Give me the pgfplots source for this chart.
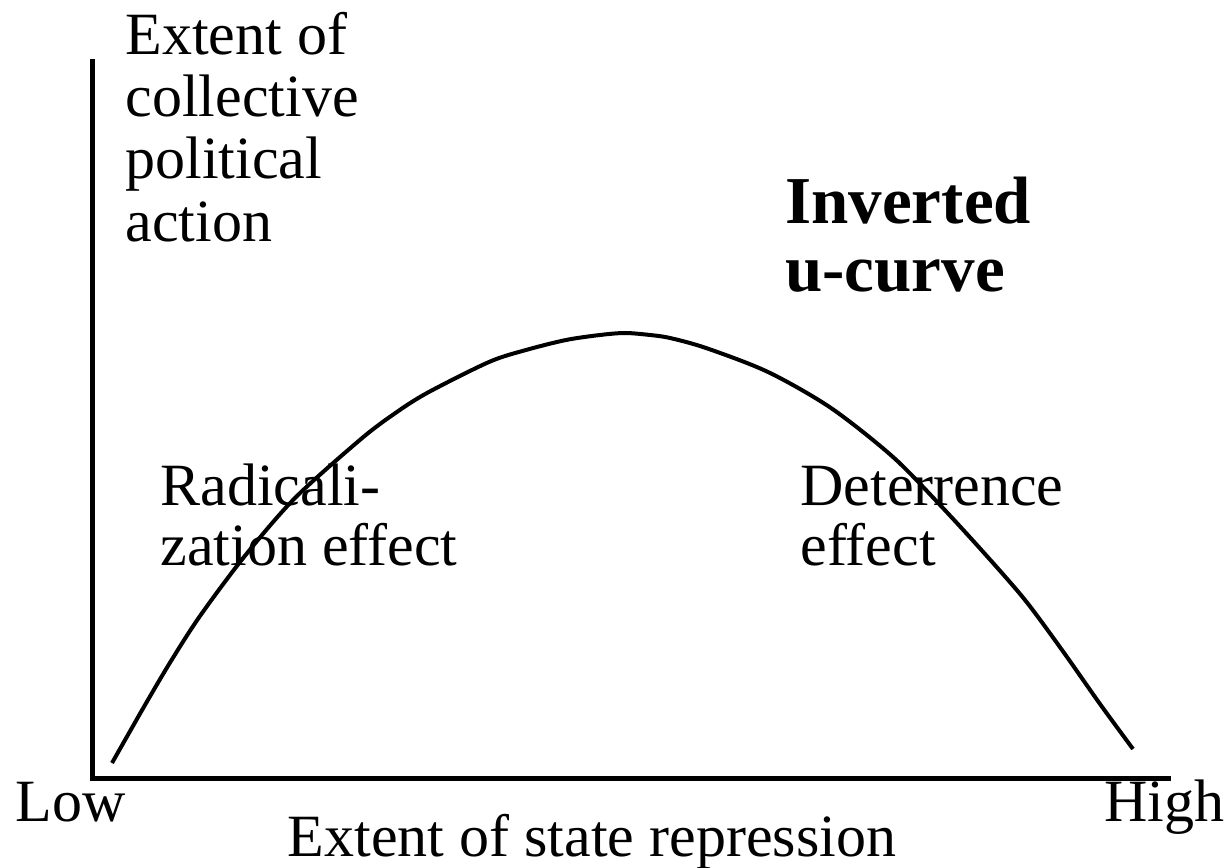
\documentclass[border=0pt]{standalone}
\usepackage{pgfplots}
\pgfplotsset{compat=1.18}
\usepackage{fontspec}
\setmainfont{Liberation Serif}
\newcommand{\rf}{\fontsize{30}{31.5}\selectfont}
\newcommand{\bfx}{\fontsize{33.5}{35}\selectfont\bfseries}
\begin{document}
\begin{tikzpicture}
\begin{axis}[
  scale only axis,
  width=537.5pt, height=358pt,
  xmin=93, xmax=1168, ymin=89, ymax=805,
  axis x line=bottom, axis y line=left,
  axis line style={-, line width=2.5pt, line cap=rect},
  xtick=\empty, ytick=\empty,
  clip=false,
]
\addplot[black, line width=2pt, smooth, tension=0.5] coordinates {
(112,104) (145,162) (171,206) (200,251) (244,310) (295,369) (361,428)
(394,453) (427,474) (489,505) (526,517) (566,527) (600,532) (625,534) (650,532)
(670,529) (706,519) (768,495) (831,459) (893,410) (941,361) (985,313) (1025,267)
(1062,217) (1100,163) (1133,118)};
\node[anchor=base west, inner sep=0pt, font=\rf] at (axis cs:125,812) {Extent of};
\node[anchor=base west, inner sep=0pt, font=\rf] at (axis cs:125,750) {collective};
\node[anchor=base west, inner sep=0pt, font=\rf] at (axis cs:125,688) {political};
\node[anchor=base west, inner sep=0pt, font=\rf] at (axis cs:125,625) {action};
\node[anchor=base west, inner sep=0pt, font=\bfx] at (axis cs:785,643) {Inverted};
\node[anchor=base west, inner sep=0pt, font=\bfx] at (axis cs:785,575) {u-curve};
\node[anchor=base west, inner sep=0pt, font=\rf] at (axis cs:160,362) {Radicali-};
\node[anchor=base west, inner sep=0pt, font=\rf] at (axis cs:160,302) {zation effect};
\node[anchor=base west, inner sep=0pt, font=\rf] at (axis cs:800,362) {Deterrence};
\node[anchor=base west, inner sep=0pt, font=\rf] at (axis cs:800,302) {effect};
\node[anchor=base west, inner sep=0pt, font=\rf] at (axis cs:15,46) {Low};
\node[anchor=base east, inner sep=0pt, font=\rf] at (axis cs:1225,46) {High};
\node[anchor=base, inner sep=0pt, font=\rf] at (axis cs:592,11) {Extent of state repression};
\coordinate (bl) at (axis cs:0,0);
\coordinate (tr) at (axis cs:1230,867);
\end{axis}
\pgfresetboundingbox
\path[use as bounding box] (bl) rectangle (tr);
\end{tikzpicture}
\end{document}
